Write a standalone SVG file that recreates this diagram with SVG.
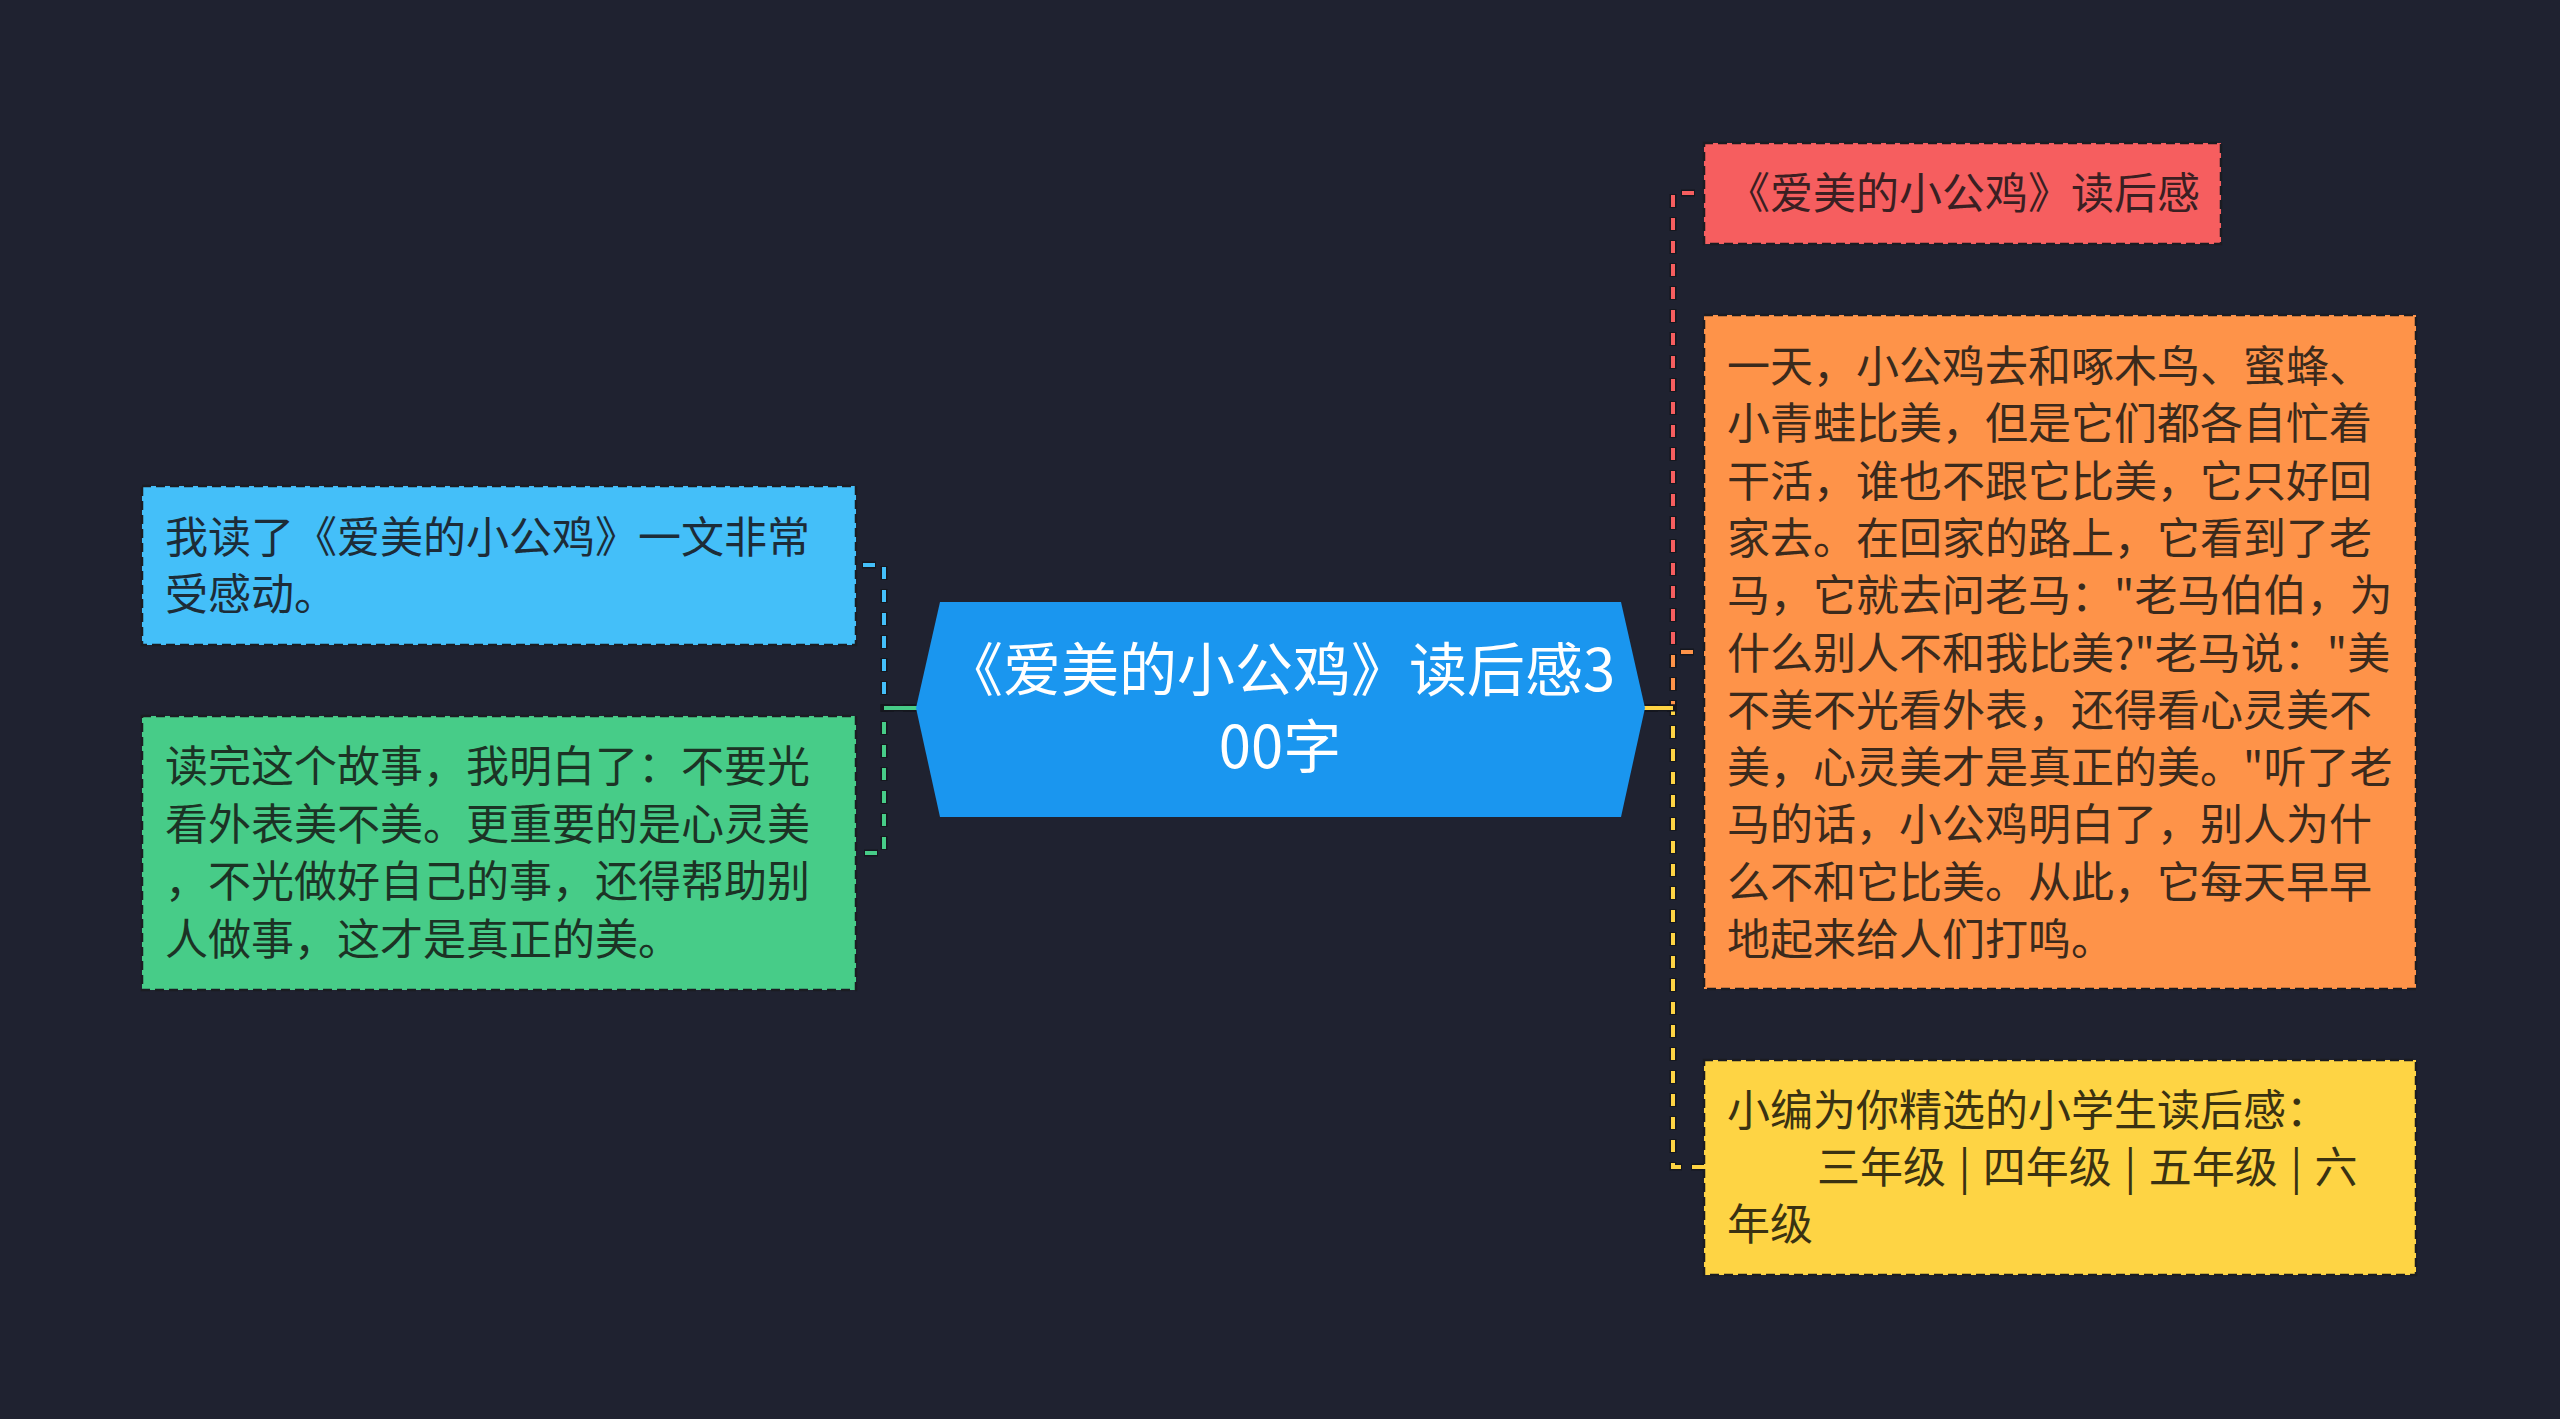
<svg xmlns="http://www.w3.org/2000/svg" width="2560" height="1419" viewBox="0 0 2560 1419">
<style>
.t{font-family:"Noto Sans CJK SC","Noto Sans",sans-serif;font-size:43px}
.c{font-family:"Noto Sans CJK SC","Noto Sans",sans-serif;font-size:58px;fill:#ffffff;text-anchor:middle}
.box{stroke:#1b1c22;stroke-width:2.5;stroke-dasharray:9 5}
.lb{fill:none;stroke:#15171e;stroke-width:7;stroke-dasharray:14 9;stroke-dashoffset:1}
.ln{fill:none;stroke-width:4;stroke-dasharray:12 11}
.sb{fill:none;stroke:#15171e;stroke-width:7}
.s{fill:none;stroke-width:4}
</style>
<rect x="0" y="0" width="2560" height="1419" fill="#1f2230"/>
<g id="connectors">
<path class="lb" d="M916,708 H884 V565 H856"/>
<path class="ln" d="M916,708 H884 V565 H856" stroke="#44bff9"/>
<path class="lb" d="M916,708 H884 V853 H856"/>
<path class="ln" d="M916,708 H884 V853 H856" stroke="#47cc88"/>
<path class="sb" d="M918,708 H882"/>
<path class="s" d="M918,708 H884" stroke="#47cc88"/>
<path class="lb" d="M1645,708 H1673 V193 H1704"/>
<path class="ln" d="M1645,708 H1673 V193 H1704" stroke="#f65e5f"/>
<path class="lb" d="M1645,708 H1673 V652 H1704"/>
<path class="ln" d="M1645,708 H1673 V652 H1704" stroke="#fe9349"/>
<path class="lb" d="M1645,708 H1673 V1167 H1704"/>
<path class="ln" d="M1645,708 H1673 V1167 H1704" stroke="#fed444"/>
<path class="sb" d="M1643,708 H1675"/>
<path class="s" d="M1643,708 H1673" stroke="#fed444"/>
</g>
<g id="center">
<polygon points="916,708 940,602 1621,602 1645,708 1621,817 940,817" fill="#1a96ef"/>
<text class="c"><tspan x="1280" y="691">《爱美的小公鸡》读后感3</tspan><tspan x="1280" y="768">00字</tspan></text>
</g>
<g id="node-blue">
<rect class="box" x="142" y="486" width="714" height="159" fill="#44bff9"/>
<text class="t" fill="#1d2c38"><tspan x="165" y="553">我读了《爱美的小公鸡》一文非常</tspan><tspan x="165" y="610">受感动。</tspan></text>
</g>
<g id="node-green">
<rect class="box" x="142" y="716" width="714" height="274" fill="#47cc88"/>
<text class="t" fill="#1c3325"><tspan x="165" y="782">读完这个故事，我明白了：不要光</tspan><tspan x="165" y="839.5">看外表美不美。更重要的是心灵美</tspan><tspan x="165" y="897">，不光做好自己的事，还得帮助别</tspan><tspan x="165" y="954.5">人做事，这才是真正的美。</tspan></text>
</g>
<g id="node-red">
<rect class="box" x="1704" y="143" width="517" height="101" fill="#f65e5f"/>
<text class="t" fill="#3b1f22"><tspan x="1727" y="209">《爱美的小公鸡》读后感</tspan></text>
</g>
<g id="node-orange">
<rect class="box" x="1704" y="315" width="712" height="674" fill="#fe9349"/>
<text class="t" fill="#3b2a1c"><tspan x="1727" y="382">一天，小公鸡去和啄木鸟、蜜蜂、</tspan><tspan x="1727" y="439.3">小青蛙比美，但是它们都各自忙着</tspan><tspan x="1727" y="496.6">干活，谁也不跟它比美，它只好回</tspan><tspan x="1727" y="553.9">家去。在回家的路上，它看到了老</tspan><tspan x="1727" y="611.2">马，它就去问老马："老马伯伯，为</tspan><tspan x="1727" y="668.5">什么别人不和我比美?"老马说："美</tspan><tspan x="1727" y="725.8">不美不光看外表，还得看心灵美不</tspan><tspan x="1727" y="783.1">美，心灵美才是真正的美。"听了老</tspan><tspan x="1727" y="840.4">马的话，小公鸡明白了，别人为什</tspan><tspan x="1727" y="897.7">么不和它比美。从此，它每天早早</tspan><tspan x="1727" y="955">地起来给人们打鸣。</tspan></text>
</g>
<g id="node-yellow">
<rect class="box" x="1704" y="1060" width="712" height="215" fill="#fed444"/>
<text class="t" fill="#3a3212"><tspan x="1727" y="1126">小编为你精选的小学生读后感：</tspan><tspan x="1817" y="1183" word-spacing="3">三年级 | 四年级 | 五年级 | 六</tspan><tspan x="1727" y="1240">年级</tspan></text>
</g>
</svg>
